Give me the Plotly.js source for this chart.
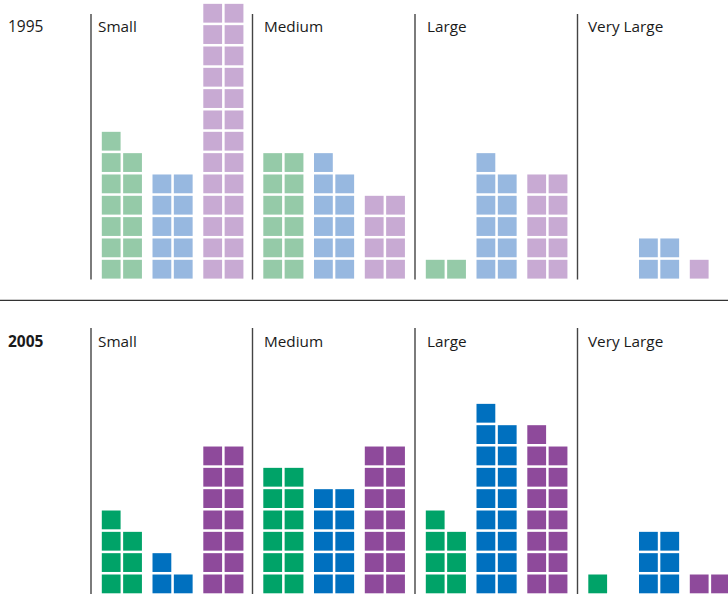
<!DOCTYPE html>
<html>
<head>
<meta charset="utf-8">
<script src="https://cdn.plot.ly/plotly-3.0.1.min.js"></script>
<style>html,body{margin:0;padding:0;background:#fff;}#chart{width:728px;height:594px;}</style>
</head>
<body>
<div id="chart"></div>
<script>
// ---- data (block counts) ----
var categories = ["Small", "Medium", "Large", "Very Large"];
var years = ["1995", "2005"];
var series = ["green", "blue", "purple"];
var green1995  = [13, 12, 2, 0];
var blue1995   = [10, 11, 11, 4];
var purple1995 = [26, 8, 10, 1];
var green2005  = [7, 12, 7, 1];
var blue2005   = [3, 10, 17, 6];
var purple2005 = [14, 14, 15, 2];
var colors1995 = ["#95caa8", "#97b8e0", "#c8aad3"];
var colors2005 = ["#00a368", "#0070bf", "#8e4a9b"];

// ---- layout constants (pixels) ----
var W = 728, H = 594;
var groupX = [91, 252.5, 415, 577.5];
var labelOffset = [5, 9.5, 10, 8];
var colOffset = [10.8, 61.5, 112.3];
var pitch = 21.33, block = 18.8;
var panels = [
  {year: years[0], bold: false, bottom: 278.6, lineTop: 14, data: [green1995, blue1995, purple1995], colors: colors1995, labelY: 26},
  {year: years[1], bold: true, bottom: 593.3, lineTop: 328, data: [green2005, blue2005, purple2005], colors: colors2005, labelY: 341}
];

var traces = [], shapes = [], annotations = [];
var font = "Open Sans, Noto Sans, sans-serif";

panels.forEach(function (p) {
  p.data.forEach(function (vals, s) {
    var xs = [], ys = [];
    vals.forEach(function (n, g) {
      for (var i = 0; i < n; i++) {
        var row = Math.floor(i / 2), c = i % 2;
        xs.push(groupX[g] + colOffset[s] + c * pitch + block / 2);
        ys.push(p.bottom - row * pitch - block / 2);
      }
    });
    traces.push({
      type: "scatter", mode: "markers", x: xs, y: ys,
      name: p.year + " " + series[s], showlegend: false, hoverinfo: "skip",
      marker: {symbol: "square", size: block, color: p.colors[s], line: {width: 0}}
    });
  });
  groupX.forEach(function (gx, g) {
    shapes.push({type: "line", xref: "x", yref: "y", x0: gx, x1: gx, y0: p.lineTop, y1: p.bottom + 1,
      line: {color: "#444", width: 1.4}});
    annotations.push({xref: "x", yref: "y", x: gx + labelOffset[g], y: p.labelY, text: categories[g],
      showarrow: false, xanchor: "left", yanchor: "middle", font: {family: font, size: 15.3, color: "#1a1a1a"}});
  });
  annotations.push({xref: "x", yref: "y", x: 6, y: p.labelY, text: p.bold ? "<b>" + p.year + "</b>" : p.year,
    showarrow: false, xanchor: "left", yanchor: "middle", font: {family: font, size: 15.5, color: "#1a1a1a"}});
});

shapes.push({type: "line", xref: "x", yref: "y", x0: 0, x1: W, y0: 300.3, y1: 300.3,
  line: {color: "#333", width: 1.3}});

var layout = {
  width: W, height: H,
  margin: {l: 0, r: 0, t: 0, b: 0},
  paper_bgcolor: "#fff", plot_bgcolor: "#fff",
  xaxis: {range: [0, W], visible: false, fixedrange: true},
  yaxis: {range: [H, 0], visible: false, fixedrange: true},
  shapes: shapes, annotations: annotations, showlegend: false
};
Plotly.newPlot("chart", traces, layout, {displayModeBar: false, staticPlot: true});
</script>
</body>
</html>
